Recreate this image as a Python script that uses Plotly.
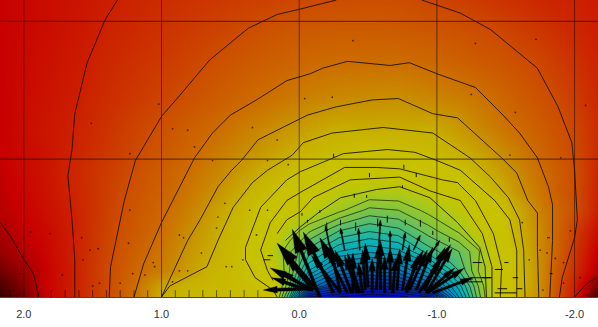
import numpy as np
import plotly.graph_objects as go

# ---------- field ----------
x_grid = [2.17,1.88,1.63,1.38,1.20,1.01,0.80,0.58,0.40,0.22,0.07,-0.07,-0.29,-0.51,-0.72,-0.94,-1.16,-1.30,-1.45,-1.59,-1.74,-1.88,-2.03,-2.17]
y_grid = [0,0.08,0.19,0.33,0.48,0.63,0.77,0.92,1.06,1.21,1.43,1.72,1.93,2.16]

z_row_00 = [-1.0,0.2,1.0,2.0,3.0,4.9,5.4,5.6,5.75,5.95,14,27,28,29,28.5,27,17,11.5,7,5,4,2,0.5,-0.9]
z_row_01 = [-0.7,0.3,1.0,2.0,3.0,4.5,5.2,5.5,5.75,6.3,12,20,24,25,24.5,21,15.5,11,7.2,5.5,4,2.1,0.6,-0.3]
z_row_02 = [-0.3,0.3,1.0,2.0,2.8,3.5,4.4,5.4,5.9,7.2,11,16,20,20.8,20.3,17.5,13,10,7.2,5.5,4,2.3,1,0.1]
z_row_03 = [0,0.4,1,1.9,2.6,3.2,4.2,5.1,6,8.3,10.8,13.5,16,16.8,16.3,13.5,12,10.2,6.9,5.4,3.9,2.6,1.2,0.3]
z_row_04 = [0.15,0.5,1,1.85,2.4,3,3.9,4.9,5.7,7.2,9.2,10.8,13,13.9,13.3,11.5,9.8,8.1,6.6,5,3.9,2.7,1.4,0.6]
z_row_05 = [0.25,0.6,1.05,1.75,2.3,2.8,3.55,4.6,5.5,6.5,7.4,8.3,9.7,11.3,11,9.6,8.4,7,6.2,4.8,3.6,2.8,1.9,0.9]
z_row_06 = [0.3,0.65,1.1,1.7,2.2,2.65,3.3,4.1,4.95,5.75,6.6,7.4,8.4,8.9,8.9,8,7.2,6.2,5.1,4.1,3.3,2.5,1.9,1]
z_row_07 = [0.35,0.7,1.15,1.65,2.05,2.5,3.05,3.7,4.35,5.05,5.55,6.15,7.05,7.3,7.15,6.5,6,5.1,4.45,3.8,3.05,2.5,1.9,1.1]
z_row_08 = [0.4,0.7,1.05,1.55,1.9,2.3,2.8,3.4,3.9,4.4,4.85,5.2,5.65,5.95,5.95,5.6,4.95,4.5,3.95,3.4,2.8,2.3,1.85,1.2]
z_row_09 = [0.4,0.75,1,1.45,1.8,2.15,2.6,3.05,3.5,3.9,4.25,4.55,5,4.95,4.95,5,4.3,3.85,3.35,2.95,2.55,2.15,1.75,1.25]
z_row_10 = [0.4,0.7,0.95,1.3,1.55,1.8,2.15,2.55,2.85,3.15,3.4,3.65,3.85,3.95,4,3.8,3.55,3.25,2.9,2.55,2.2,1.95,1.55,1.15]
z_row_11 = [0.4,0.65,0.85,1.15,1.35,1.55,1.8,2.1,2.35,2.55,2.7,2.85,2.97,2.99,3,2.85,2.6,2.4,2.25,2.05,1.85,1.6,1.3,1.05]
z_row_12 = [0.4,0.6,0.8,1.05,1.2,1.4,1.6,1.8,2,2.2,2.35,2.45,2.5,2.5,2.45,2.35,2.15,2.05,1.9,1.7,1.5,1.3,1.1,0.95]
z_row_13 = [0.4,0.6,0.75,0.95,1.1,1.25,1.4,1.55,1.65,1.75,1.85,1.92,2.0,2.05,2.03,1.85,1.7,1.55,1.4,1.3,1.15,1.05,1.0,0.9]
z_rows = [z_row_00,z_row_01,z_row_02,z_row_03,z_row_04,z_row_05,z_row_06,z_row_07,z_row_08,z_row_09,z_row_10,z_row_11,z_row_12,z_row_13]

colour_levels = [-1.2,-0.3,0.4,1,2,3,4,5,6,8,9,10,11,12,13,14,15,16,18,20,23,26,29]
colour_values = ["#200000","#700000","#c80000","#cc2000","#cc4c00","#cc6c00","#c89000","#c8b000","#c8c000","#c4c400",
                 "#b0c814","#98c828","#80c440","#64c060","#48bc78","#28b898","#10b4b0","#00acb8","#0094c0","#007cc0",
                 "#0048c0","#0020c0","#0000b8"]

# ---------- contour lines ----------
cA_l_x=[2.17,2.09,2.01,1.93,1.89]; cA_l_y=[.54,.43,.29,.17,0]
cA_r_x=[-2.16,-2.09,-2.00]; cA_r_y=[.14,.10,0]
c1_x=[1.63,1.63,1.65,1.68,1.65,1.63,1.54,1.41,1.32]; c1_y=[0,.27,.56,.88,1.07,1.33,1.70,2.01,2.155]
c2a_x=[1.38,1.37,1.32,1.27,1.19,1.00,.87,.65,.37,.16,-.01,-.27]; c2a_y=[0,.22,.46,.70,.99,1.31,1.46,1.72,1.95,2.05,2.09,2.155]
c2b_x=[-.89,-1.17,-1.39,-1.73,-1.88,-1.98,-2.00,-2.02,-2.00,-1.95,-1.91,-1.89]; c2b_y=[2.155,2.06,1.94,1.66,1.38,1.12,.92,.56,.43,.27,.14,0]
c3_x=[1.20,1.13,1.00,.84,.76,.63,.50,.31,.09,-.08,-.17,-.35,-.46,-.66,-.80,-1.00,-1.28,-1.48,-1.60,-1.73,-1.81,-1.84,-1.84,-1.82]
c3_y=[0,.24,.54,.85,1.01,1.19,1.32,1.43,1.57,1.62,1.66,1.71,1.70,1.68,1.70,1.62,1.52,1.32,1.19,1.01,.80,.67,.41,0]
c4_x=[1.00,.81,.72,.59,.49,.42,.30,.02,-.06,-.27,-.53,-.72,-.97,-1.15,-1.26,-1.47,-1.58,-1.66,-1.73,-1.73,-1.74]
c4_y=[0,.41,.56,.80,.92,.99,1.14,1.28,1.32,1.38,1.43,1.44,1.33,1.30,1.20,1.01,.90,.70,.61,.36,0]
c5_x=[1.00,.94,.67,.59,.48,.34,.23,.05,-.03,-.24,-.61,-.97,-1.15,-1.24,-1.39,-1.52,-1.60,-1.63,-1.64]
c5_y=[0,.08,.22,.41,.65,.83,.92,1.03,1.12,1.19,1.23,1.19,1.07,1.01,.87,.72,.56,.34,0]
c6_x=[.16,.19,.32,.39,.39,.28,.09,-.01,-.32,-.64,-.84,-1.00,-1.17,-1.31,-1.42,-1.53,-1.58,-1.58]
c6_y=[0,.05,.14,.27,.36,.65,.85,.91,1.04,1.07,1.05,.99,.92,.80,.70,.56,.34,0]
c7_x=[.19,.23,.28,.21,.09,-.01,-.33,-.56,-.73,-.95,-1.04,-1.15,-1.24,-1.28,-1.41,-1.47,-1.46]
c7_y=[.12,.19,.34,.54,.70,.76,.94,.94,.93,.87,.85,.83,.74,.70,.46,.22,0]
c8_x=[.16,.09,-.01,-.10,-.37,-.73,-.95,-1.17,-1.33,-1.40,-1.40]; c8_y=[.46,.56,.62,.72,.85,.87,.77,.70,.46,.22,0]
c9_x=[.10,-.01,-.15,-.30,-.56,-.73,-.95,-1.15,-1.31,-1.35,-1.36]; c9_y=[.41,.51,.62,.72,.78,.80,.72,.54,.36,.22,0]
contour_lines=[(cA_l_x,cA_l_y),(cA_r_x,cA_r_y),(c1_x,c1_y),(c2a_x,c2a_y),(c2b_x,c2b_y),(c3_x,c3_y),(c4_x,c4_y),(c5_x,c5_y),(c6_x,c6_y),(c7_x,c7_y),(c8_x,c8_y),(c9_x,c9_y)]

# ---------- arrows ----------
big_tail_x=[-.15,-.25,-.13,-.10,-.06,-.03,-.35,-.38,-.44,-.50,-.56,-.66,-.71,-.75,-.80,-.85,-.88,-.93,-.97,-.39,-.30,-.88,-.59,-.48,-.77,-.91,-.93,-.30,-.42,-.46,-.53,-.62,-.68,-.78,-.87,-.92,-.10,-.08]
big_tail_y=[0,.03,.05,.05,.06,.06,.03,.03,.03,.07,.05,.05,.05,.05,.05,.05,.05,.03,.03,.03,.03,.05,.05,.05,.05,.05,.04,.03,.03,.03,.03,.03,.03,.03,.03,.03,.05,.05]
big_tip_x=[.05,-.03,.16,.21,.26,.20,-.15,-.26,-.35,-.48,-.58,-.66,-.73,-.80,-.93,-.97,-1.10,-1.20,-1.26,-.39,-.22,-1.04,-.59,-.46,-.90,-1.06,-1.11,-.09,-.33,-.43,-.53,-.62,-.70,-.86,-1.02,-1.13,.09,.13]
big_tip_y=[.49,.47,.39,.21,.05,.14,.43,.34,.32,.39,.39,.36,.35,.38,.34,.36,.38,.21,.14,.32,.39,.29,.41,.34,.34,.36,.35,.30,.30,.25,.28,.30,.28,.30,.25,.21,.28,.19]
big_head_half=[.046,.046,.046,.03,.024,.024,.038,.029,.029,.029,.028,.028,.028,.029,.029,.028,.029,.024,.022,.028,.034,.026,.028,.026,.028,.026,.026,.026,.026,.024,.024,.026,.024,.026,.024,.022,.026,.022]
big_head_len=[.17,.17,.17,.12,.10,.10,.15,.12,.12,.12,.11,.11,.11,.12,.12,.11,.12,.10,.09,.11,.14,.10,.11,.10,.11,.10,.10,.10,.10,.09,.09,.10,.09,.10,.09,.09,.10,.09]
big_shaft_half=[.011]*6+[.009]*32

thin_tail_x=[-.58,-.66,-.75,-.44,-.33,-.22,-.83,-.95]
thin_tail_y=[.39,.36,.34,.34,.34,.37,.34,.30]
thin_tip_x=[-.59,-.66,-.77,-.43,-.30,-.19,-.88,-1.02]
thin_tip_y=[.56,.48,.47,.50,.50,.52,.45,.41]
thin_head_half=[.012]*8
thin_head_len=[.04]*8
thin_shaft_half=[.004]*8

# short vertical strokes over the arcs
stroke_x=[-.25,-.51,-.76,-.40,-.49,-.75,-.85,-.57,-.64,-.41,-.30,-.20,-.77,-.88,-.97,-1.09,-.15,-.06,-.02]
stroke_y0=[1.04,.90,.96,.75,.74,.81,.90,.57,.59,.54,.56,.54,.56,.56,.48,.43,.63,.56,.61]
stroke_y1=[1.01,.87,.93,.72,.72,.79,.87,.51,.54,.48,.52,.50,.52,.51,.45,.40,.61,.54,.59]
# short horizontal strokes
dash_x0=[-1.44,-1.58,-1.55,-1.42,-1.49,-1.33,-1.26,-1.19,-1.80,-1.42,-1.82,.23,.26,-1.20,-1.24]
dash_x1=[-1.51,-1.62,-1.59,-1.48,-1.52,-1.40,-1.33,-1.26,-1.82,-1.58,-1.84,.19,.21,-1.33,-1.39]
dash_y=[.06,.06,.14,.20,.25,.14,.25,.13,.43,.03,.17,.30,.27,.11,.14]
# upright strokes along the base
base_x=[2.1,2.0,1.9,1.8,1.7,1.6,1.5,1.4,1.3,1.2,1.1,1.0,0.9,0.8,0.7,0.6,0.5,0.4,0.3]
base_h=[.05]*19
# specks
speck_x=[1.57,1.52,1.81,1.95,1.58,1.50,1.45,1.30,1.06,1.05,1.12,1.21,.92,.87,.84,.87,.81,1.23,1.24,1.46,1.72,2.03,1.51,1.23,1.02,.92,.81,.76,.63,.34,.16,.23,.08,-.39,-1.28,-1.72,-2.08,-1.57,-1.25,-.24,-.04,-1.53,-1.90,.71,.53,.49,.59,.54,.36,.23,.41,.60,.31,-1.75,-1.86,-1.92,-1.97,-1.80,-2.04,-1.62,-1.92,-1.77,-1.67]
speck_y=[.27,.34,.46,.47,.43,.08,.10,.10,.25,.22,.16,.17,.11,.45,.43,.19,.19,.63,.39,.35,.16,.17,1.26,1.04,1.40,1.22,1.21,1.09,.99,1.23,1.14,.99,.96,1.86,1.84,1.87,1.39,1.34,1.47,1.45,1.44,1.03,1.01,.32,.22,.22,.58,.68,.63,.63,.27,.50,.45,.34,.28,.25,.48,.32,.14,.54,.10,.05,.27]

tick_vals=[2,1,0,-1,-2]
tick_text=["2.0","1.0","0.0","-1.0","-2.0"]
h_lines=[1,2]

# ---------- figure ----------
zmin,zmax=colour_levels[0],colour_levels[-1]
scale=[[(l-zmin)/(zmax-zmin),c] for l,c in zip(colour_levels,colour_values)]
fig=go.Figure()
fig.add_trace(go.Heatmap(x=x_grid,y=y_grid,z=z_rows,zmin=zmin,zmax=zmax,colorscale=scale,zsmooth="best",showscale=False,hoverinfo="skip"))
fig.add_trace(go.Contour(x=x_grid,y=y_grid,z=z_rows,autocontour=False,contours=dict(start=10,end=28,size=1,coloring="none"),
                         line=dict(color="rgba(10,10,10,0.85)",width=0.8,smoothing=0),showscale=False,hoverinfo="skip"))
def gapped(pairs):
    xs,ys=[],[]
    for a,b in pairs:
        xs+=list(a)+[None]; ys+=list(b)+[None]
    return xs,ys
xs,ys=gapped(contour_lines)
fig.add_trace(go.Scatter(x=xs,y=ys,mode="lines",line=dict(color="rgba(20,10,0,0.85)",width=1),hoverinfo="skip"))
xs,ys=gapped([([a,a],[b,c]) for a,b,c in zip(stroke_x,stroke_y0,stroke_y1)]+[([a,b],[c,c]) for a,b,c in zip(dash_x0,dash_x1,dash_y)])
fig.add_trace(go.Scatter(x=xs,y=ys,mode="lines",line=dict(color="rgba(0,0,0,0.9)",width=1),hoverinfo="skip"))
xs,ys=gapped([([a,a],[0,h]) for a,h in zip(base_x,base_h)])
fig.add_trace(go.Scatter(x=xs,y=ys,mode="lines",line=dict(color="rgba(0,0,0,0.55)",width=1),hoverinfo="skip"))
fig.add_trace(go.Scatter(x=speck_x,y=speck_y,mode="markers",marker=dict(size=1.8,color="rgba(40,10,0,0.75)",line_width=0),hoverinfo="skip"))
def arrows(tx,ty,hx,hy,shaft,head_half,head_len):
    polys=[]
    for a,b,c,d,s,hw,hl in zip(tx,ty,hx,hy,shaft,head_half,head_len):
        v=np.array([c-a,d-b]); L=np.hypot(*v); u=v/L; n=np.array([-u[1],u[0]])
        t=np.array([a,b]); h=np.array([c,d]); neck=h-u*min(hl,L*.8)
        pts=[t+n*s,neck+n*s,neck+n*hw,h,neck-n*hw,neck-n*s,t-n*s,t+n*s]
        polys.append(([float(p[0]) for p in pts],[float(p[1]) for p in pts]))
    xs,ys=gapped(polys)
    fig.add_trace(go.Scatter(x=xs,y=ys,mode="lines",fill="toself",fillcolor="black",line=dict(color="black",width=0.4),hoverinfo="skip"))
arrows(thin_tail_x,thin_tail_y,thin_tip_x,thin_tip_y,thin_shaft_half,thin_head_half,thin_head_len)
arrows(big_tail_x,big_tail_y,big_tip_x,big_tip_y,big_shaft_half,big_head_half,big_head_len)

shapes=[dict(type="line",xref="x",yref="paper",x0=v,x1=v,y0=0,y1=1,line=dict(color="rgba(30,15,0,0.6)",width=1),layer="above") for v in tick_vals]
shapes+=[dict(type="line",xref="paper",yref="y",x0=0,x1=1,y0=v,y1=v,line=dict(color="rgba(30,15,0,0.6)",width=1.3),layer="above") for v in h_lines]
fig.update_layout(width=598,height=327,margin=dict(l=0,r=0,t=0,b=30),paper_bgcolor="white",plot_bgcolor="white",showlegend=False,shapes=shapes,
    xaxis=dict(range=[2.173,-2.170],tickvals=tick_vals,ticktext=tick_text,showgrid=False,zeroline=False,ticks="outside",ticklen=7,tickcolor="rgba(0,0,0,0)",
               tickfont=dict(family="Liberation Sans",size=11,color="#333333"),showline=True,linecolor="#444444",linewidth=1),
    yaxis=dict(range=[0,2.155],showticklabels=False,showgrid=False,zeroline=False,ticks=""))
fig.write_html("out.html",config=dict(displayModeBar=False),post_script="document.body.style.margin='0';document.documentElement.style.overflow='hidden';")
